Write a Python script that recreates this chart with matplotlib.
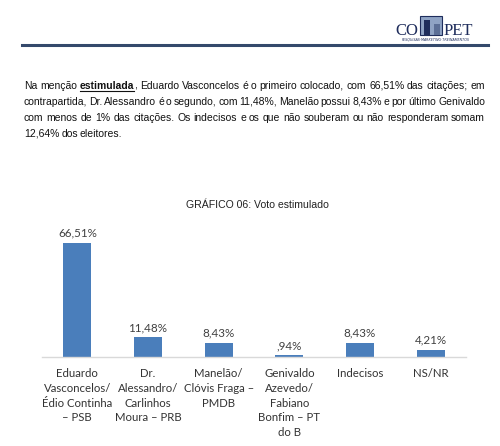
import matplotlib
matplotlib.use("Agg")
import matplotlib.pyplot as plt
from matplotlib.patches import Rectangle
from matplotlib.lines import Line2D

categories = [
    "Eduardo\nVasconcelos/\nÉdio Continha\n– PSB",
    "Dr.\nAlessandro/\nCarlinhos\nMoura – PRB",
    "Manelão/\nClóvis Fraga –\nPMDB",
    "Genivaldo\nAzevedo/\nFabiano\nBonfim – PT\ndo B",
    "Indecisos",
    "NS/NR",
]
values = [66.51, 11.48, 8.43, 0.94, 8.43, 4.21]
value_labels = ["66,51%", "11,48%", "8,43%", ",94%", "8,43%", "4,21%"]

title = "GRÁFICO 06: Voto estimulado"

paragraph = [
    "Na menção **estimulada**, Eduardo Vasconcelos é o primeiro colocado, com 66,51% das citações; em",
    "contrapartida, Dr. Alessandro é o segundo, com 11,48%, Manelão possui 8,43% e por último Genivaldo",
    "com menos de 1% das citações. Os indecisos e os que não souberam ou não responderam somam",
    "12,64% dos eleitores.",
]

narrow = ["Liberation Sans Narrow", "DejaVu Sans Condensed", "Liberation Sans"]

W, H = 500, 446
fig = plt.figure(figsize=(W / 100, H / 100), dpi=100)
fig.patch.set_facecolor("white")


def px(x, y):
    return x / W, 1 - y / H


# header line
fig.add_artist(Line2D([22 / W, 488 / W], [1 - 45 / H, 1 - 45 / H],
                      color="#34496b", lw=2.2))

# logo
navy = "#1f2d5c"
fig.text(*px(395, 35), "CO", fontsize=12, family="Liberation Serif",
         color=navy, va="baseline", ha="left")
fig.add_artist(Rectangle(px(420, 35), 22 / W, 19 / H, facecolor="#8fa3c4",
                         edgecolor=navy, lw=0.8))
fig.add_artist(Rectangle(px(424, 35), 6 / W, 15 / H, facecolor=navy,
                         edgecolor="none"))
fig.add_artist(Rectangle(px(434, 35), 6 / W, 11 / H, facecolor="#5c6f96",
                         edgecolor="none"))
fig.text(*px(444, 35), "PET", fontsize=12, family="Liberation Serif",
         color=navy, va="baseline", ha="left")
fig.text(*px(436, 39.8), "PESQUISAS·MARKETING·TREINAMENTOS", fontsize=2.4,
         style="italic", color=navy, ha="center", va="center")

# justified paragraph, word by word
renderer = fig.canvas.get_renderer()
left, right = 24, 485
line_y = [85, 101, 117, 133]


def build_words(size):
    lines = []
    for line in paragraph:
        arts = []
        for w in line.split(" "):
            txt = w.replace("**", "")
            if w.startswith("**"):
                core = txt.rstrip(",")
                parts = [(core, True)]
                if txt[len(core):]:
                    parts.append((txt[len(core):], False))
            else:
                parts = [(txt, False)]
            group = []
            for s, b in parts:
                t = fig.text(0, 0, s, fontsize=size, family=narrow,
                             fontweight="bold" if b else "normal",
                             color="#111111", va="baseline", ha="left")
                group.append((t, b, t.get_window_extent(renderer).width))
            arts.append(group)
        lines.append(arts)
    return lines


size = 9.0
lines = build_words(size)
space = 2.4 * size / 9.0
need = max(sum(w for g in arts for _, _, w in g) + space * (len(arts) - 1)
           for arts in lines)
if need > right - left:
    for arts in lines:
        for g in arts:
            for t, _, _ in g:
                t.remove()
    size = size * (right - left) / need
    lines = build_words(size)
    space = 2.4 * size / 9.0

for i, arts in enumerate(lines):
    total = sum(w for g in arts for _, _, w in g)
    last = i == len(lines) - 1
    gap = space if last else (right - left - total) / (len(arts) - 1)
    x = left
    base = line_y[i] + 4
    for group in arts:
        for t, b, w in group:
            t.set_position(px(x, base))
            if b:
                fig.add_artist(Line2D([x / W, (x + w) / W],
                                      [1 - (base + 1.5) / H] * 2,
                                      color="#111111", lw=0.8))
            x += w
        x += gap

# chart title
fig.text(*px(257, 205), title, fontsize=7.6, family=narrow,
         color="#222222", ha="center", va="center")

# bar chart
ax = fig.add_axes([42 / W, 1 - 357 / H, (466 - 42) / W, (357 - 235) / H])
xs = range(len(values))
ax.bar(xs, values, width=0.4, color="#4a7ebb")
ax.set_xlim(-0.5, len(values) - 0.5)
ax.set_ylim(0, 71.2)
for x, v, lab in zip(xs, values, value_labels):
    ax.annotate(lab, (x, v), xytext=(0, 3), textcoords="offset points",
                ha="center", va="bottom", fontsize=8.4, family="Lato",
                color="#404040")
ax.set_xticks(list(xs))
ax.set_xticklabels(categories, fontsize=8.2, family="Lato", color="#333333",
                   linespacing=1.42, va="top")
ax.tick_params(axis="x", length=0, pad=8)
ax.set_yticks([])
for s in ["top", "left", "right"]:
    ax.spines[s].set_visible(False)
ax.spines["bottom"].set_color("#d9d9d9")
ax.spines["bottom"].set_linewidth(1.0)
ax.patch.set_alpha(0)

fig.savefig("out.png", dpi=100, facecolor="white")
